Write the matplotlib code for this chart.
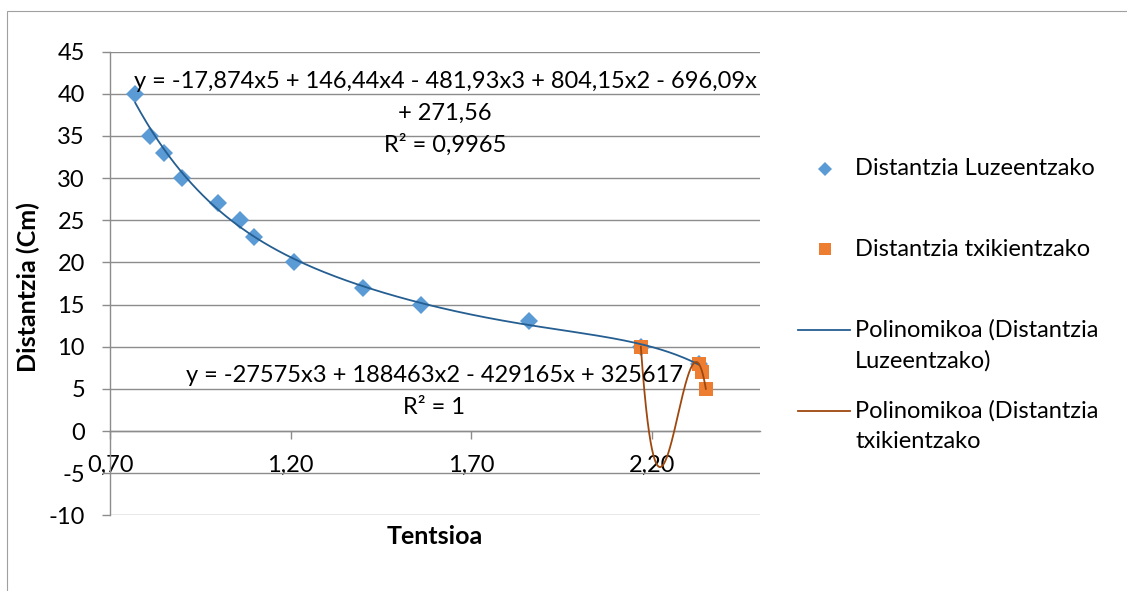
import matplotlib
matplotlib.use("Agg")
import matplotlib.pyplot as plt
import numpy as np
from matplotlib.lines import Line2D
from matplotlib.patches import Rectangle

# Distantzia luzeak: tentsioa (V) eta distantzia (cm)
luze_v = [0.77, 0.81, 0.85, 0.90, 1.00, 1.06, 1.10, 1.21, 1.40, 1.56, 1.86, 2.17, 2.33]
luze_d = [40, 35, 33, 30, 27, 25, 23, 20, 17, 15, 13, 10, 8]

# Distantzia txikiak
txiki_v = [2.17, 2.33, 2.34, 2.35]
txiki_d = [10, 8, 7, 5]

x_ticks = [0.70, 1.20, 1.70, 2.20]
y_ticks = list(range(-10, 50, 5))

eq_luze = ["y = -17,874x5 + 146,44x4 - 481,93x3 + 804,15x2 - 696,09x",
           "+ 271,56", "R² = 0,9965"]
eq_txiki = ["y = -27575x3 + 188463x2 - 429165x + 325617", "R² = 1"]

legend_labels = ["Distantzia Luzeentzako", "Distantzia txikientzako",
                 ["Polinomikoa (Distantzia", "Luzeentzako)"],
                 ["Polinomikoa (Distantzia", "txikientzako"]]

blue, orange = "#5B9BD5", "#ED7D31"
blue_dark, orange_dark = "#255E91", "#9E480E"
grid_c = "#8C8C8C"

plt.rcParams["font.family"] = ["Lato", "DejaVu Sans"]
FS = 17

W, H = 1127, 591
fig = plt.figure(figsize=(W / 100, H / 100), dpi=100)
fx = lambda px: px / W
fy = lambda py: 1 - py / H

# chart border
fig.patches.append(Rectangle((fx(6.5), -0.2), 1.2, fy(11) + 0.2, transform=fig.transFigure,
                             fill=False, edgecolor="#A0A0A0", lw=0.8))

ax = fig.add_axes([fx(110), fy(515.3), fx(760) - fx(110), fy(51.7) - fy(515.3)])
ax.set_xlim(0.7, 2.5)
ax.set_ylim(-10, 45)

# markers
ax.plot(luze_v, luze_d, "D", color=blue, ms=9, mew=0, zorder=3)
ax.plot(txiki_v, txiki_d, "s", color=orange, ms=10.5, mew=0, zorder=3)

# polynomial trendlines
c5 = np.polyfit(luze_v, luze_d, 5)
xx = np.linspace(min(luze_v), max(luze_v), 300)
ax.plot(xx, np.polyval(c5, xx), color=blue_dark, lw=1.3, zorder=4)

c3 = np.polyfit(txiki_v, txiki_d, 3)
xx = np.linspace(min(txiki_v), max(txiki_v), 300)
ax.plot(xx, np.polyval(c3, xx), color=orange_dark, lw=1.3, zorder=4)

# axes styling
for s in ["top", "right"]:
    ax.spines[s].set_visible(False)
ax.spines["bottom"].set_position(("data", 0))
for s in ["left", "bottom"]:
    ax.spines[s].set_color(grid_c)
    ax.spines[s].set_linewidth(1)
ax.set_yticks(y_ticks)
ax.set_yticklabels([str(v) for v in y_ticks])
ax.set_xticks(x_ticks)
ax.set_xticklabels([f"{v:.2f}".replace(".", ",") for v in x_ticks])
ax.tick_params(axis="both", direction="out", length=6, color=grid_c, width=1,
               labelsize=FS)
ax.tick_params(axis="y", pad=12)
ax.tick_params(axis="x", pad=11)
ax.yaxis.grid(True, color=grid_c, lw=1)
ax.set_axisbelow(True)

fig.text(fx(28), fy(287), "Distantzia (Cm)", rotation=90, ha="center", va="center",
         fontsize=FS + 1, fontweight="bold")
fig.text(fx(435), fy(536), "Tentsioa", ha="center", va="center",
         fontsize=FS + 1, fontweight="bold")

# trendline equations
for i, line in enumerate(eq_luze):
    fig.text(fx(445), fy(81 + 32 * i), line, ha="center", va="center", fontsize=FS)
for i, line in enumerate(eq_txiki):
    fig.text(fx(434), fy(375 + 33 * i), line, ha="center", va="center", fontsize=FS)

# legend
fig.add_artist(Line2D([fx(825)], [fy(169)], marker="D", color=blue, ms=7, mew=0,
                      transform=fig.transFigure))
fig.add_artist(Line2D([fx(825)], [fy(249)], marker="s", color=orange, ms=8.5, mew=0,
                      transform=fig.transFigure))
fig.add_artist(Line2D([fx(798), fx(850)], [fy(330), fy(330)], color=blue_dark, lw=1.3,
                      transform=fig.transFigure))
fig.add_artist(Line2D([fx(798), fx(850)], [fy(411), fy(411)], color=orange_dark, lw=1.3,
                      transform=fig.transFigure))
fig.text(fx(855), fy(169), legend_labels[0], va="center", fontsize=FS)
fig.text(fx(855), fy(249), legend_labels[1], va="center", fontsize=FS)
for j, top in [(2, 330), (3, 411)]:
    for k, line in enumerate(legend_labels[j]):
        fig.text(fx(855), fy(top + 31 * k), line, va="center", fontsize=FS)

fig.savefig("out.png", dpi=100)
